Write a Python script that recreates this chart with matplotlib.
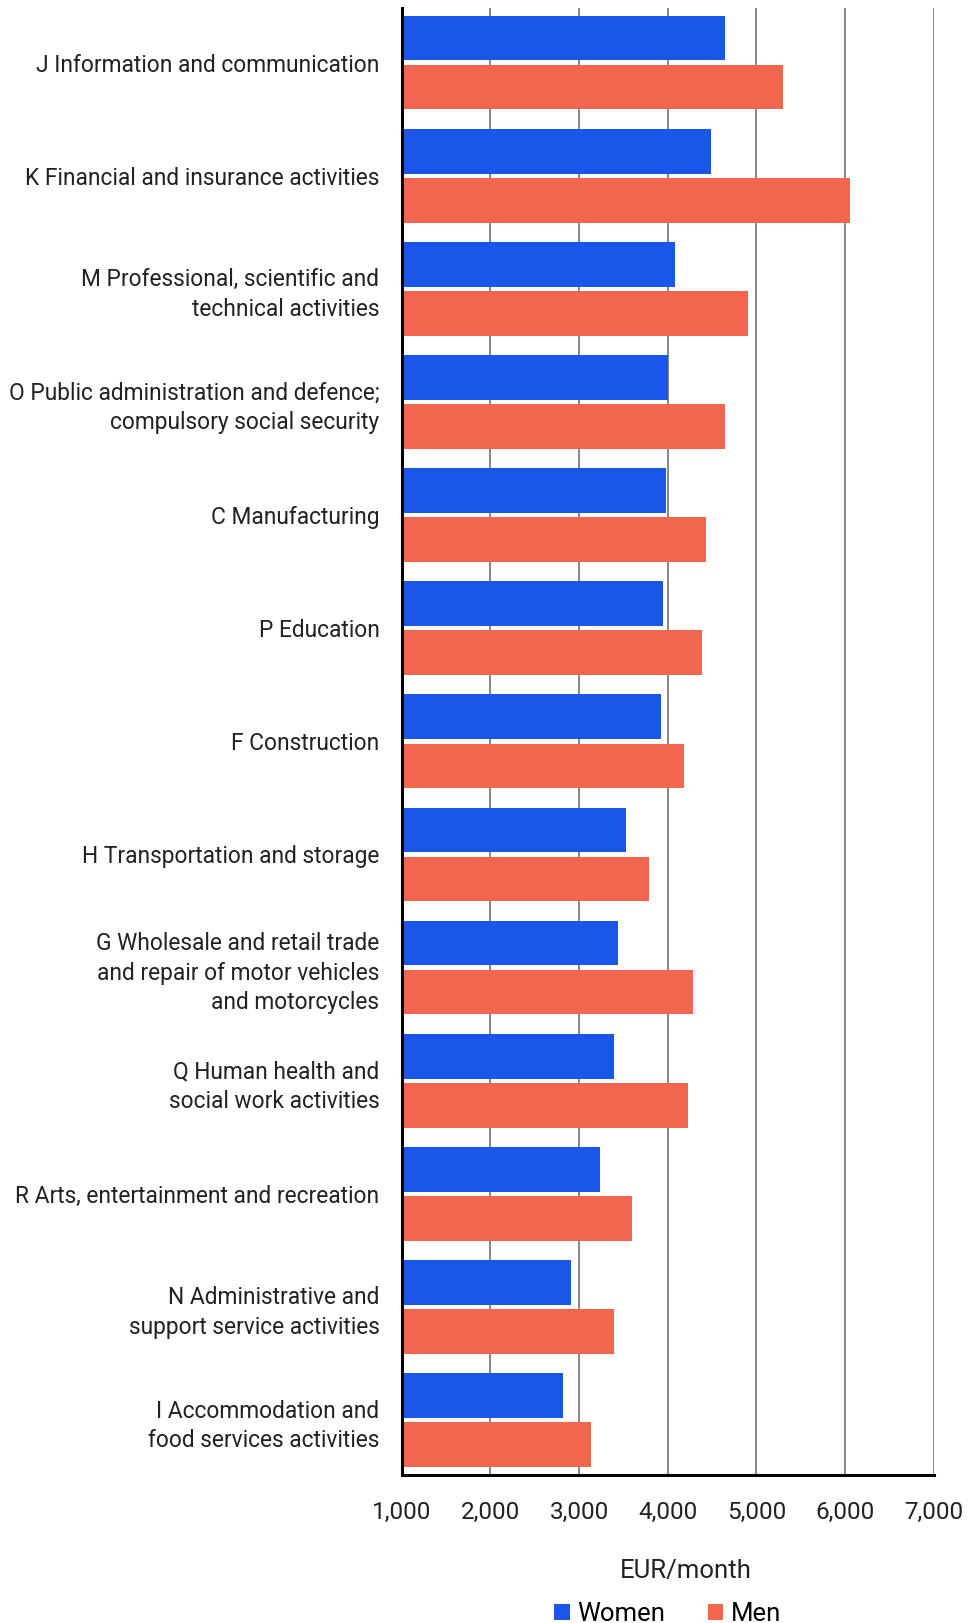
import matplotlib
matplotlib.use("Agg")
import matplotlib.pyplot as plt
import numpy as np

plt.rcParams["font.family"] = ["Roboto", "DejaVu Sans"]

categories = [
    "J Information and communication",
    "K Financial and insurance activities",
    "M Professional, scientific and\ntechnical activities",
    "O Public administration and defence;\ncompulsory social security",
    "C Manufacturing",
    "P Education",
    "F Construction",
    "H Transportation and storage",
    "G Wholesale and retail trade\nand repair of motor vehicles\nand motorcycles",
    "Q Human health and\nsocial work activities",
    "R Arts, entertainment and recreation",
    "N Administrative and\nsupport service activities",
    "I Accommodation and\nfood services activities",
]
women = [4641, 4488, 4087, 4006, 3977, 3943, 3926, 3534, 3444, 3397, 3231, 2908, 2818]
men = [5301, 6055, 4905, 4649, 4428, 4381, 4181, 3789, 4287, 4232, 3598, 3397, 3133]
xticks = [1000, 2000, 3000, 4000, 5000, 6000, 7000]
xtick_labels = ["1,000", "2,000", "3,000", "4,000", "5,000", "6,000", "7,000"]

BLUE = "#1B56EB"
RED = "#F2654E"

fig = plt.figure(figsize=(9.71, 16.23), dpi=100)
ax = fig.add_axes([0.4137, 0.0912, 0.548, 0.9037])

y = np.arange(len(categories))
off = 0.217
h = 0.395
ax.barh(y - off, np.array(women) - 1000, left=1000, height=h, color=BLUE,
        label="Women", zorder=3)
ax.barh(y + off, np.array(men) - 1000, left=1000, height=h, color=RED,
        label="Men", zorder=3)

ax.set_xlim(1000, 7000)
ax.set_ylim(len(categories) - 1 + 0.485, -0.48)
ax.set_xticks(xticks)
ax.set_xticklabels(xtick_labels, fontsize=17.5, color="#222222")
ax.set_yticks(y)
ax.set_yticklabels(categories, fontsize=16.4, color="#222222", linespacing=1.35)
ax.tick_params(axis="x", length=0, pad=19)
ax.tick_params(axis="y", length=0, pad=16)

ax.grid(axis="x", color="#666666", linewidth=1.1, zorder=0)
for s in ["top", "right"]:
    ax.spines[s].set_visible(False)
ax.spines["left"].set_linewidth(2.2)
ax.spines["bottom"].set_linewidth(2.2)
ax.spines["left"].set_zorder(4)

ax.set_xlabel("EUR/month", fontsize=18.5, color="#222222")
ax.xaxis.set_label_coords(0.534, -0.0655)
ax.xaxis.label.set_va("center")

fig.legend(loc="center", bbox_to_anchor=(0.6877, 0.0055), ncol=2, frameon=False,
           fontsize=18.5, handlelength=0.6, handleheight=0.6, handletextpad=0.3,
           columnspacing=1.65)

fig.savefig("out.png", dpi=100)
